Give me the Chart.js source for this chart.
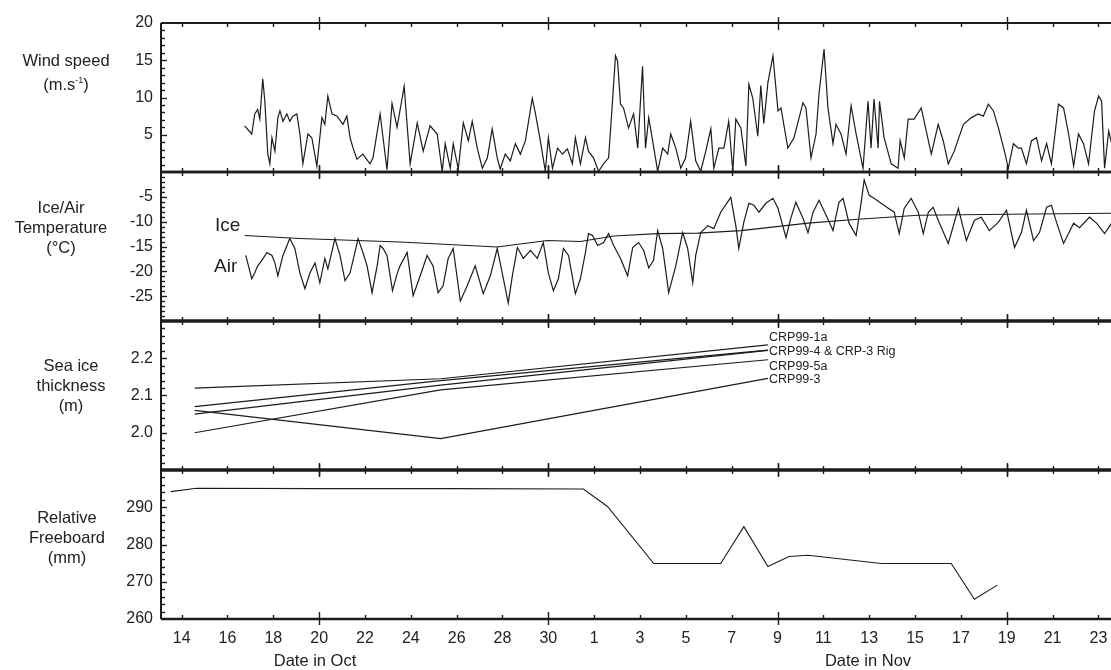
<!DOCTYPE html>
<html>
<head>
<meta charset="utf-8">
<title>Wind, temperature, sea ice and freeboard, Oct-Nov</title>
<script src="https://cdn.jsdelivr.net/npm/chart.js@4.4.0/dist/chart.umd.min.js"></script>
<style>
  body { margin: 0; background: #fff; font-family: "Liberation Sans", Arial, sans-serif; color: #222; }
  #wrap { position: relative; width: 1111px; height: 670px; overflow: hidden; }
  #wrap canvas { position: absolute; left: 0; top: 0; }
  .ttl { position: absolute; width: 130px; text-align: center; font-size: 16.5px; line-height: 20px; }
  .tag { position: absolute; white-space: nowrap; }
  .big { font-size: 19px; }
  .site { font-size: 12.5px; line-height: 14px; }
  .axt { position: absolute; font-size: 16.5px; transform: translateX(-50%); white-space: nowrap; }
</style>
</head>
<body>
<div id="wrap">
  <canvas id="cWind" width="1111" height="670"></canvas>
  <canvas id="cTemp" width="1111" height="670"></canvas>
  <canvas id="cIce" width="1111" height="670"></canvas>
  <canvas id="cFree" width="1111" height="670"></canvas>

  <div class="ttl" style="left:1px; top:50px">Wind speed<br>(m.s<sup style="font-size:9px">-1</sup>)</div>
  <div class="ttl" style="left:-4px; top:197px">Ice/Air<br>Temperature<br>(&deg;C)</div>
  <div class="ttl" style="left:6px; top:355px">Sea ice<br>thickness<br>(m)</div>
  <div class="ttl" style="left:2px; top:507px">Relative<br>Freeboard<br>(mm)</div>

  <div class="tag big" style="left:215px; top:214px">Ice</div>
  <div class="tag big" style="left:214px; top:255px">Air</div>

  <div class="tag site" style="left:769px; top:330px">CRP99-1a</div>
  <div class="tag site" style="left:769px; top:344px">CRP99-4 &amp; CRP-3 Rig</div>
  <div class="tag site" style="left:769px; top:359px">CRP99-5a</div>
  <div class="tag site" style="left:769px; top:372px">CRP99-3</div>

  <div class="axt" style="left:315px; top:651px">Date in Oct</div>
  <div class="axt" style="left:868px; top:651px">Date in Nov</div>
</div>

<script>
// days counted from 1 Oct (Nov 1 = 32)
const X_MIN = 13.1, X_MAX = 54.55;
const dayTicks = [14, 16, 18, 20, 22, 24, 26, 28, 30, 32, 34, 36, 38, 40, 42, 44, 46, 48, 50, 52, 54];

const windTicks = [5, 10, 15, 20];
const tempTicks = [-25, -20, -15, -10, -5];
const iceTicks = [2.0, 2.1, 2.2];
const freeTicks = [260, 270, 280, 290];

// wind speed (m/s)
const windDay = [16.75, 17.06, 17.19, 17.32, 17.41, 17.54, 17.63, 17.76, 17.85, 17.94, 18.07, 18.2, 18.29, 18.42, 18.59, 18.72, 18.85, 19.03, 19.16, 19.29,
  19.51, 19.68, 19.9, 20.12, 20.25, 20.38, 20.56, 20.78, 21.04, 21.21, 21.35, 21.48, 21.65, 21.91, 22.22, 22.35, 22.66, 22.96, 23.18, 23.4,
  23.62, 23.71, 23.97, 24.28, 24.54, 24.84, 25.15, 25.37, 25.5, 25.72, 25.85, 26.07, 26.29, 26.51, 26.68, 26.9, 27.12, 27.34, 27.55, 27.77,
  27.9, 28.12, 28.34, 28.56, 28.78, 29.0, 29.3, 29.44, 29.65, 29.87, 30.0, 30.18, 30.4, 30.62, 30.83, 31.05, 31.18, 31.4, 31.62, 31.75,
  31.97, 32.19, 32.41, 32.63, 32.8, 32.93, 33.02, 33.15, 33.28, 33.5, 33.72, 33.9, 34.11, 34.24, 34.38, 34.55, 34.77, 34.99, 35.21, 35.34,
  35.56, 35.78, 35.99, 36.21, 36.43, 36.65, 36.87, 37.09, 37.22, 37.44, 37.66, 37.87, 38.05, 38.18, 38.4, 38.62, 38.75, 38.92, 39.14, 39.27,
  39.4, 39.58, 39.8, 40.02, 40.15, 40.45, 40.72, 41.11, 41.24, 41.46, 41.68, 41.81, 42.03, 42.2, 42.42, 42.55, 42.77, 42.99, 43.21, 43.43,
  43.73, 43.95, 44.08, 44.21, 44.39, 44.45, 44.65, 44.96, 45.26, 45.35, 45.53, 45.7, 45.96, 46.27, 46.49, 46.71, 47.01, 47.23, 47.45, 47.71,
  48.11, 48.46, 48.76, 48.98, 49.2, 49.42, 49.64, 49.9, 50.07, 50.29, 50.51, 50.64, 50.86, 51.08, 51.3, 51.52, 51.74, 51.95, 52.26, 52.48,
  52.7, 52.92, 53.13, 53.35, 53.57, 53.83, 54.01, 54.14, 54.27, 54.45, 54.58];
const windSpeed = [6.2, 5.1, 7.8, 8.4, 7.1, 12.5, 9.5, 2.4, 1.1, 4.6, 2.8, 7.3, 8.2, 6.8, 7.8, 6.8, 7.5, 7.8, 5.1, 1.1,
  5.1, 4.6, 0.8, 7.3, 6.4, 10.2, 7.8, 7.5, 6.4, 7.5, 4.6, 3.2, 1.7, 2.4, 1.1, 1.9, 7.8, 0.3, 9.2, 6.0,
  9.9, 11.5, 1.1, 6.6, 2.8, 6.2, 5.1, 0.1, 3.8, 0.5, 3.8, 0.4, 6.6, 4.2, 6.8, 3.2, 0.5, 1.9, 5.8, 1.9,
  0.4, 2.4, 1.5, 3.8, 2.4, 4.2, 9.9, 7.8, 4.2, 0.1, 4.6, 0.5, 3.2, 2.4, 3.1, 1.1, 4.6, 1.1, 4.6, 2.8,
  1.9, 0.1, 1.1, 1.9, 9.5, 15.6, 14.9, 9.1, 8.6, 5.9, 7.8, 3.2, 14.2, 3.2, 7.3, 4.2, 0.1, 3.2, 2.4, 5.1,
  3.2, 0.5, 1.9, 6.8, 1.5, 0.1, 2.8, 5.8, 0.5, 3.2, 3.2, 6.8, 0.1, 7.1, 5.9, 0.8, 11.8, 9.9, 4.8, 11.6,
  6.5, 12.0, 15.6, 8.2, 8.6, 3.2, 4.6, 9.3, 8.6, 1.9, 5.1, 10.5, 16.5, 8.6, 3.8, 6.4, 5.1, 2.4, 8.9, 5.1,
  0.5, 9.5, 3.2, 9.8, 3.2, 9.5, 4.6, 1.1, 0.5, 4.2, 1.9, 7.1, 7.1, 8.6, 5.5, 2.4, 6.4, 4.2, 1.1, 2.8,
  6.4, 7.3, 7.8, 7.5, 9.1, 8.2, 5.9, 2.8, 0.5, 3.8, 3.2, 3.2, 1.1, 4.2, 4.6, 1.5, 3.8, 1.1, 9.1, 8.6,
  5.1, 0.8, 5.1, 3.8, 1.1, 8.2, 10.2, 9.5, 0.5, 5.5, 3.8];

// ice temperature (deg C)
const iceDay = [16.75, 19.16, 23.53, 27.77, 29.96, 31.4, 32.85, 34.77, 36.52, 38.4, 41.33, 43.51, 46.14, 50.07, 54.58];
const iceTemp = [-12.8, -13.4, -14.1, -15.1, -13.8, -14.0, -12.9, -12.4, -12.3, -11.8, -10.3, -9.5, -8.7, -8.5, -8.3];

// air temperature (deg C)
const airDay = [16.8, 17.06, 17.19, 17.32, 17.5, 17.72, 17.94, 18.07, 18.2, 18.42, 18.72, 18.94, 19.16, 19.38, 19.6, 19.82, 20.03, 20.25, 20.38, 20.69,
  20.91, 21.13, 21.35, 21.7, 21.91, 22.09, 22.31, 22.53, 22.66, 22.79, 22.96, 23.2, 23.4, 23.53, 23.84, 24.1, 24.41, 24.71, 24.97, 25.19,
  25.41, 25.63, 25.85, 26.16, 26.46, 26.81, 27.16, 27.47, 27.77, 28.04, 28.25, 28.43, 28.65, 28.91, 29.22, 29.52, 29.78, 30.0, 30.22, 30.44,
  30.66, 30.88, 31.18, 31.4, 31.62, 31.75, 31.93, 32.15, 32.41, 32.63, 32.85, 33.15, 33.46, 33.68, 33.94, 34.16, 34.38, 34.59, 34.77, 34.99,
  35.25, 35.56, 35.86, 36.08, 36.3, 36.43, 36.65, 36.96, 37.22, 37.52, 37.96, 38.18, 38.31, 38.53, 38.75, 38.97, 39.19, 39.49, 39.8, 40.02,
  40.37, 40.58, 40.8, 41.11, 41.33, 41.55, 41.81, 42.12, 42.42, 42.68, 42.86, 43.12, 43.43, 43.65, 43.78, 44.0, 44.21, 44.52, 44.83, 45.09,
  45.31, 45.53, 45.83, 46.14, 46.36, 46.58, 46.79, 47.01, 47.45, 47.89, 48.24, 48.59, 48.89, 49.24, 49.64, 49.99, 50.34, 50.64, 50.86, 51.17,
  51.43, 51.74, 51.95, 52.17, 52.48, 52.92, 53.18, 53.61, 53.92, 54.27, 54.58];
const airTemp = [-16.8, -21.5, -20.3, -18.9, -17.8, -16.2, -16.8, -18.3, -20.9, -16.8, -13.4, -15.4, -20.3, -23.5, -20.3, -18.3, -22.3, -17.4, -19.5, -13.4,
  -16.8, -21.9, -20.3, -13.4, -16.2, -18.9, -24.3, -18.9, -14.8, -15.4, -16.8, -23.9, -20.5, -18.9, -16.2, -24.9, -20.9, -16.8, -18.9, -24.3,
  -22.9, -17.4, -15.4, -26.0, -22.9, -18.9, -24.5, -20.9, -15.4, -21.5, -26.4, -20.9, -15.2, -17.4, -15.8, -17.4, -14.2, -20.3, -23.9, -21.5,
  -15.4, -16.8, -24.5, -21.5, -16.2, -12.4, -12.8, -14.8, -14.2, -12.4, -14.8, -17.4, -20.9, -15.2, -14.2, -15.8, -19.3, -17.8, -11.8, -15.4,
  -24.3, -18.9, -12.2, -15.4, -22.3, -16.8, -12.2, -10.8, -11.4, -8.1, -5.1, -10.8, -15.4, -10.1, -6.3, -6.7, -8.1, -6.3, -5.3, -7.3,
  -13.2, -9.3, -6.1, -9.3, -12.2, -8.1, -5.7, -8.7, -11.8, -6.1, -5.3, -10.3, -12.8, -6.1, -1.6, -4.7, -5.3, -6.3, -7.3, -8.1,
  -12.4, -7.3, -5.3, -8.1, -12.4, -8.1, -7.1, -9.7, -14.4, -7.3, -13.8, -9.7, -9.1, -11.8, -10.1, -7.7, -15.2, -12.2, -7.7, -13.8,
  -12.2, -7.1, -6.7, -10.1, -14.4, -10.3, -11.2, -9.1, -10.3, -12.4, -10.3];

// sea ice thickness (m), measured at three dates
const thickDay = [14.57, 25.3, 39.58];
const thick1a = [2.12, 2.145, 2.236];
const thick4 = [2.07, 2.14, 2.222];
const thickRig = [2.05, 2.128, 2.221];
const thick5a = [2.00, 2.115, 2.196];
const thick3 = [2.06, 1.984, 2.146];

// relative freeboard (mm)
const freeDay = [13.52, 14.66, 20.03, 25.72, 31.53, 32.58, 34.6, 37.52, 38.53, 39.58, 40.5, 41.33, 44.52, 47.58, 48.59, 49.59];
const freeboard = [294.2, 295.1, 295.0, 295.0, 294.9, 290.2, 274.9, 274.9, 284.8, 274.1, 276.8, 277.1, 274.9, 274.9, 265.3, 269.1];

const INK = '#1c1c1c';

function pts(xs, ys) {
  return xs.map((d, i) => ({ x: d, y: ys[i] }));
}

function series(xs, ys, w) {
  return { data: pts(xs, ys), borderColor: INK, borderWidth: w || 1.2, pointRadius: 0, tension: 0, fill: false };
}

// axis frame, inward ticks and panel separators
const framePlugin = {
  id: 'frame',
  afterDatasetsDraw(chart, args, o) {
    const { ctx, chartArea: a, scales } = chart;
    const x = scales.x, y = scales.y;
    const seg = (x1, y1, x2, y2) => { ctx.beginPath(); ctx.moveTo(x1, y1); ctx.lineTo(x2, y2); ctx.stroke(); };
    ctx.save();
    ctx.strokeStyle = INK;
    ctx.lineWidth = o.topWidth; seg(a.left, a.top, a.right, a.top);
    ctx.lineWidth = o.bottomWidth; seg(a.left, a.bottom, a.right, a.bottom);
    ctx.lineWidth = 2; seg(a.left, a.top, a.left, a.bottom);

    ctx.lineWidth = 1.4;
    dayTicks.forEach(d => {
      const px = Math.round(x.getPixelForValue(d)) + 0.5;
      const long = d % 10 === 0;
      seg(px, a.top - (long ? 6 : 0), px, a.top + (long ? 7 : 4));
      seg(px, a.bottom + (long ? 6 : 0), px, a.bottom - (long ? 7 : 4));
    });

    const n = Math.round((y.max - y.min) / o.minor);
    for (let i = 1; i < n; i++) {
      const v = y.min + i * o.minor;
      const r = v / o.major;
      const major = Math.abs(r - Math.round(r)) < 1e-6;
      const py = Math.round(y.getPixelForValue(v)) + 0.5;
      seg(a.left, py, a.left + (major ? 6 : 4), py);
    }
    ctx.restore();
  }
};

function xAxis(show) {
  const ax = {
    type: 'linear', min: X_MIN, max: X_MAX, display: show,
    afterBuildTicks: s => { s.ticks = dayTicks.map(v => ({ value: v })); },
    grid: { display: false, drawTicks: false },
    border: { display: false },
    ticks: {
      autoSkip: false, maxRotation: 0, padding: 10, color: '#222',
      font: { family: 'Liberation Sans', size: 16 },
      callback: v => (v > 31 ? v - 31 : v)
    }
  };
  if (show) {
    ax.afterFit = s => { s.height = 51; s.paddingLeft = 0; s.paddingRight = 0; };
  }
  return ax;
}

function yAxis(min, max, tickVals, digits) {
  return {
    type: 'linear', min: min, max: max,
    afterBuildTicks: ax => { ax.ticks = tickVals.map(v => ({ value: v })); },
    afterFit: ax => { ax.width = 161; },
    grid: { display: false, drawTicks: false },
    border: { display: false },
    ticks: {
      padding: 8, color: '#222',
      font: { family: 'Liberation Sans', size: 16 },
      callback: v => v.toFixed(digits)
    }
  };
}

function panel(id, datasets, yScale, pad, showX, frame) {
  return new Chart(document.getElementById(id), {
    type: 'line',
    data: { datasets: datasets },
    options: {
      responsive: false, animation: false, events: [],
      layout: { padding: { top: pad[0], bottom: pad[1], left: 0, right: 0 } },
      scales: { x: xAxis(showX), y: yScale },
      plugins: { legend: { display: false }, tooltip: { enabled: false }, frame: frame }
    },
    plugins: [framePlugin]
  });
}

panel('cWind', [series(windDay, windSpeed, 1.2)],
  yAxis(0, 20, windTicks, 0), [23, 498], false,
  { topWidth: 2, bottomWidth: 2.5, minor: 1, major: 5 });

panel('cTemp', [series(iceDay, iceTemp, 1.1), series(airDay, airTemp, 1.2)],
  yAxis(-30, 0, tempTicks, 0), [172, 349], false,
  { topWidth: 2.5, bottomWidth: 3, minor: 1, major: 5 });

panel('cIce', [series(thickDay, thick1a), series(thickDay, thick4), series(thickDay, thickRig),
  series(thickDay, thick5a), series(thickDay, thick3)],
  yAxis(1.9, 2.3, iceTicks, 1), [321, 200], false,
  { topWidth: 3, bottomWidth: 3, minor: 0.02, major: 0.1 });

panel('cFree', [series(freeDay, freeboard, 1.1)],
  yAxis(260, 300, freeTicks, 0), [470, 0], true,
  { topWidth: 3, bottomWidth: 2.5, minor: 2, major: 10 });
</script>
</body>
</html>
